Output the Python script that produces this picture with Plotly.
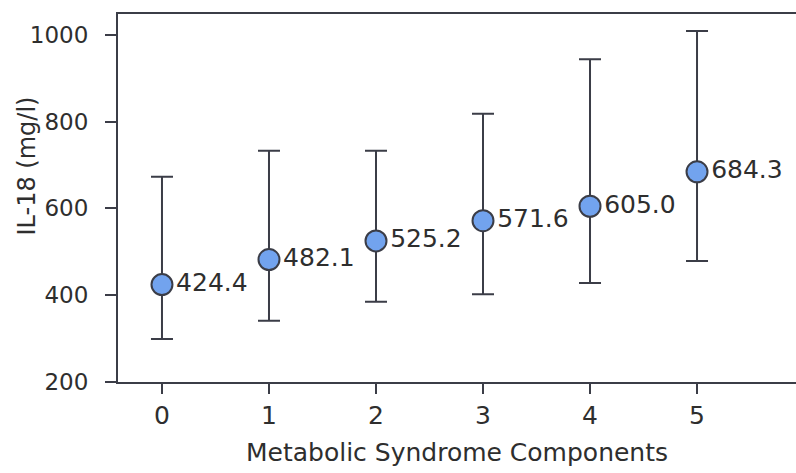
import plotly.graph_objects as go

components = [0, 1, 2, 3, 4, 5]
means = [424.4, 482.1, 525.2, 571.6, 605.0, 684.3]
upper = [673, 733, 733, 818, 944, 1009]
lower = [299, 341, 385, 402, 428, 479]
labels = ["424.4", "482.1", "525.2", "571.6", "605.0", "684.3"]
y_ticks = [200, 400, 600, 800, 1000]

err_plus = [u - m for u, m in zip(upper, means)]
err_minus = [m - l for m, l in zip(means, lower)]

ink = "#3b3d47"
txt = "#2e2e2e"
font = "DejaVu Sans"

fig = go.Figure()
fig.add_trace(go.Scatter(
    x=components, y=means, mode="markers+text",
    text=labels, textposition="middle right",
    textfont=dict(family=font, size=25, color=txt),
    marker=dict(size=21, color="#72a3ee", line=dict(color=ink, width=2)),
    error_y=dict(type="data", symmetric=False, array=err_plus, arrayminus=err_minus,
                 color=ink, thickness=2, width=11),
    showlegend=False, cliponaxis=False,
))

fig.update_layout(
    width=796, height=473,
    margin=dict(l=118, r=0, t=14, b=91),
    paper_bgcolor="white", plot_bgcolor="white",
    font=dict(family=font, color=txt),
    xaxis=dict(
        range=[-0.411, 5.925], tickvals=components, ticktext=[str(c) for c in components],
        showline=True, linecolor=ink, linewidth=2, mirror=True,
        ticks="outside", ticklen=10, tickwidth=2, tickcolor=ink,
        showgrid=False, zeroline=False,
        tickfont=dict(family=font, size=25, color=txt),
        title=dict(text="Metabolic Syndrome Components", font=dict(family=font, size=25, color=txt), standoff=14),
    ),
    yaxis=dict(
        range=[200, 1048], tickvals=y_ticks,
        showline=True, linecolor=ink, linewidth=2, mirror=False,
        ticks="outside", ticklen=11, tickwidth=2, tickcolor=ink,
        showgrid=False, zeroline=False,
        tickfont=dict(family=font, size=23, color=txt),
        ticklabelstandoff=12,
    ),
    annotations=[dict(
        text="IL-18 (mg/l)", xref="paper", yref="paper",
        x=-0.1342, y=0.5856, xanchor="center", yanchor="middle",
        textangle=-90, showarrow=False,
        font=dict(family=font, size=24, color=txt),
    )],
)

fig.write_html("out.html")
